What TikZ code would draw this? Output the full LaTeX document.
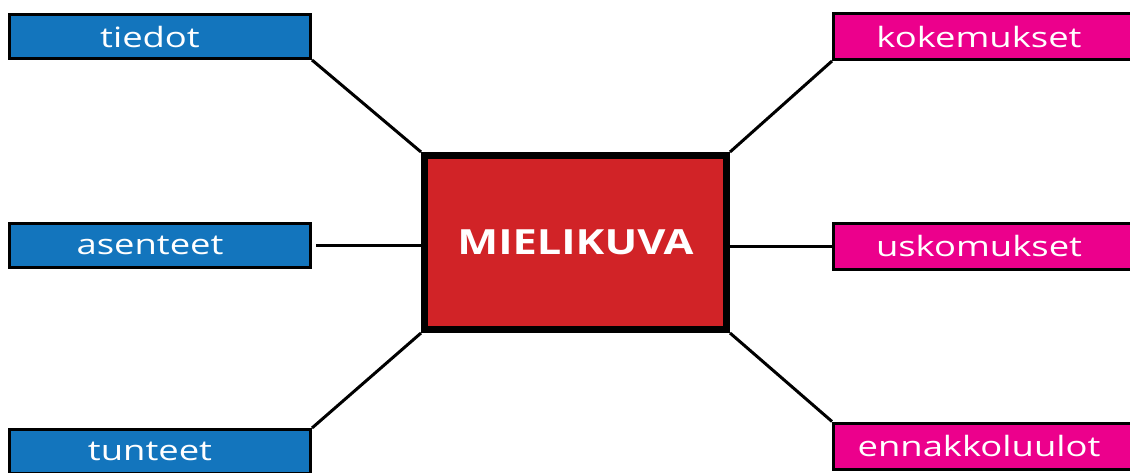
\documentclass[tikz,border=0pt]{standalone}
\usepackage{fontspec}
\usepackage{tikz}
\newfontfamily\lblfont[FakeStretch=1.3]{Open Sans}
\newfontfamily\ttlfont[FakeStretch=1.25]{Open Sans}
\definecolor{tietoblue}{RGB}{19,117,189}
\definecolor{kokemagenta}{RGB}{236,0,140}
\definecolor{kuvared}{RGB}{209,35,39}
\tikzset{
  leftbox/.style={draw=black, line width=2.25pt, fill=tietoblue, text=white,
    minimum width=225.75pt, minimum height=33pt, inner sep=0pt,
    font=\lblfont\fontsize{21}{24}\selectfont, execute at end node={\hspace*{15pt}}},
  rightbox/.style={draw=black, line width=2.25pt, fill=kokemagenta, text=white,
    minimum width=225.75pt, minimum height=34.5pt, inner sep=0pt,
    font=\lblfont\fontsize{21}{24}\selectfont, execute at end node={\hspace*{7.5pt}}},
  centerbox/.style={draw=black, line width=5.25pt, fill=kuvared, text=white,
    minimum width=226.5pt, minimum height=130.5pt, inner sep=0pt,
    font=\ttlfont\bfseries\fontsize{26}{30}\selectfont},
  link/.style={draw=black, line width=2.25pt}
}
\begin{document}
\begin{tikzpicture}[x=0.75pt,y=0.75pt,yscale=-1.0,xscale=1.0]
\useasboundingbox (0,0) rectangle (1130,472);
% keskus
\node[centerbox] (mielikuva) at (575.5,242.5) {MIELIKUVA};
% vasen puoli
\node[leftbox] (tiedot) at (160,36.5) {tiedot};
\node[leftbox] (asenteet) at (160,245.5) {asenteet};
\node[leftbox] (tunteet) at (160,451.5) {tunteet};
% oikea puoli
\node[rightbox] (kokemukset) at (984,36.5) {kokemukset};
\node[rightbox] (uskomukset) at (984,246) {uskomukset};
\node[rightbox] (ennakkoluulot) at (984,446) {ennakkoluulot};
% viivat
\draw[link] (tiedot.south east) -- (mielikuva.north west);
\draw[link, shorten <=3pt] (asenteet.east) -- (asenteet.east -| mielikuva.west);
\draw[link] (tunteet.north east) -- (mielikuva.south west);
\draw[link] (kokemukset.south west) -- (mielikuva.north east);
\draw[link] (mielikuva.east |- uskomukset.west) -- (uskomukset.west);
\draw[link] (ennakkoluulot.north west) -- (mielikuva.south east);
\end{tikzpicture}
\end{document}
